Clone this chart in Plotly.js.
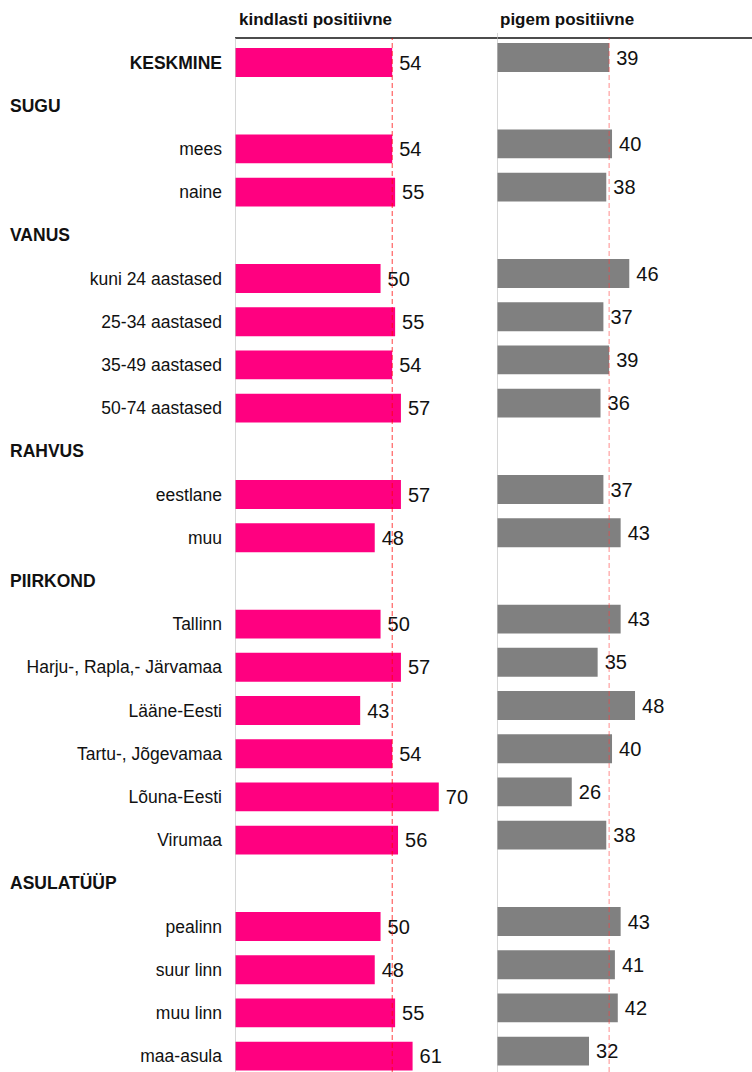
<!DOCTYPE html>
<html>
<head>
<meta charset="utf-8">
<script src="https://cdn.plot.ly/plotly-3.0.1.min.js"></script>
<style>html,body{margin:0;padding:0;background:#fff;}#chart{width:752px;height:1072px;}</style>
</head>
<body>
<div id="chart"></div>
<script>
const categories = ['KESKMINE','SUGU','mees','naine','VANUS','kuni 24 aastased','25-34 aastased','35-49 aastased','50-74 aastased','RAHVUS','eestlane','muu','PIIRKOND','Tallinn','Harju-, Rapla,- Järvamaa','Lääne-Eesti','Tartu-, Jõgevamaa','Lõuna-Eesti','Virumaa','ASULATÜÜP','pealinn','suur linn','muu linn','maa-asula'];
const headers = ['SUGU','VANUS','RAHVUS','PIIRKOND','ASULATÜÜP'];
const kindlasti = [54,null,54,55,null,50,55,54,57,null,57,48,null,50,57,43,54,70,56,null,50,48,55,61];
const pigem = [39,null,40,38,null,46,37,39,36,null,37,43,null,43,35,48,40,26,38,null,43,41,42,32];
const seriesNames = ['kindlasti positiivne','pigem positiivne'];
const averageLabel = 'KESKMINE';

const FONT = 'Liberation Sans, Arial, sans-serif';
const W = 752, H = 1072, L = 235, T = 38;
const pw = W - L, ph = H - T;
const px = v => (v - L) / pw;

const tickText = categories.map(c => headers.includes(c) ? '' : (c === averageLabel ? '<b>' + c + '</b>' : c));
const avgIdx = categories.indexOf(averageLabel);

const barCommon = {
  type: 'bar', orientation: 'h', y: categories, width: 0.67,
  textposition: 'outside', texttemplate: '\u2009%{x}', cliponaxis: false, constraintext: 'none',
  textfont: {family: FONT, size: 20, color: '#111'}, outsidetextfont: {family: FONT, size: 20, color: '#111'},
  hoverinfo: 'skip', showlegend: false
};

const traces = [
  Object.assign({}, barCommon, {x: kindlasti, name: seriesNames[0], marker: {color: '#FF0080'}, xaxis: 'x', yaxis: 'y'}),
  Object.assign({}, barCommon, {x: pigem, name: seriesNames[1], marker: {color: '#808080'}, xaxis: 'x2', yaxis: 'y2'})
];

const rowPx = 43.2;
const rTop = -24.5 / rowPx;
const rBot = rTop + ph / rowPx;
const shift = 5 / rowPx;

const annotations = headers.map(h => ({
  xref: 'paper', yref: 'y', x: px(8), y: h, xanchor: 'left', yanchor: 'middle',
  text: '<b>' + h + '</b>', showarrow: false, font: {family: FONT, size: 17.5, color: '#111'}
}));
annotations.push({xref: 'paper', yref: 'paper', x: px(237), y: 1 + 18 / ph, xanchor: 'left', yanchor: 'middle',
  text: '<b>' + seriesNames[0] + '</b>', showarrow: false, font: {family: FONT, size: 17, color: '#111'}});
annotations.push({xref: 'paper', yref: 'paper', x: px(498), y: 1 + 18 / ph, xanchor: 'left', yanchor: 'middle',
  text: '<b>' + seriesNames[1] + '</b>', showarrow: false, font: {family: FONT, size: 17, color: '#111'}});

const shapes = [
  {type: 'line', xref: 'paper', yref: 'paper', x0: 0, x1: 1, y0: 1, y1: 1, line: {color: '#111', width: 1.3}},
  {type: 'line', xref: 'x', yref: 'paper', x0: 0, x1: 0, y0: 0, y1: 1, line: {color: '#c0c0c0', width: 1.3}, layer: 'above'},
  {type: 'line', xref: 'x2', yref: 'paper', x0: 0, x1: 0, y0: 0, y1: 1 + 5 / ph, line: {color: '#c0c0c0', width: 1.3}, layer: 'above'},
  {type: 'line', xref: 'x', yref: 'paper', x0: kindlasti[avgIdx], x1: kindlasti[avgIdx], y0: 0, y1: 1, line: {color: 'rgba(255,0,0,0.75)', width: 1, dash: '5px,3px'}},
  {type: 'line', xref: 'x2', yref: 'paper', x0: pigem[avgIdx], x1: pigem[avgIdx], y0: 0, y1: 1, line: {color: 'rgba(255,60,60,0.45)', width: 1.3, dash: '5px,3px'}}
];

const layout = {
  width: W, height: H,
  margin: {l: L, r: 0, t: T, b: 0, pad: 0},
  paper_bgcolor: '#fff', plot_bgcolor: '#fff',
  font: {family: FONT, size: 17.5, color: '#111'},
  xaxis: {domain: [0, px(494)], range: [0, (494 - 236) / 2.9], showgrid: false, zeroline: false, showticklabels: false, showline: false, fixedrange: true},
  xaxis2: {domain: [px(497), 1], range: [0, (W - 497.5) / 2.87], showgrid: false, zeroline: false, showticklabels: false, showline: false, anchor: 'y2', fixedrange: true},
  yaxis: {type: 'category', categoryorder: 'array', categoryarray: categories, range: [rBot, rTop],
    tickmode: 'array', tickvals: categories, ticktext: tickText, ticks: '', ticklabelstandoff: 12,
    showgrid: false, zeroline: false, showline: false, tickfont: {family: FONT, size: 17.5, color: '#111'}},
  yaxis2: {type: 'category', categoryorder: 'array', categoryarray: categories, range: [rBot + shift, rTop + shift],
    anchor: 'x2', showticklabels: false, ticks: '', showgrid: false, zeroline: false, showline: false},
  bargap: 0.33,
  annotations: annotations,
  shapes: shapes
};

Plotly.newPlot('chart', traces, layout, {staticPlot: true, displayModeBar: false});
</script>
</body>
</html>
